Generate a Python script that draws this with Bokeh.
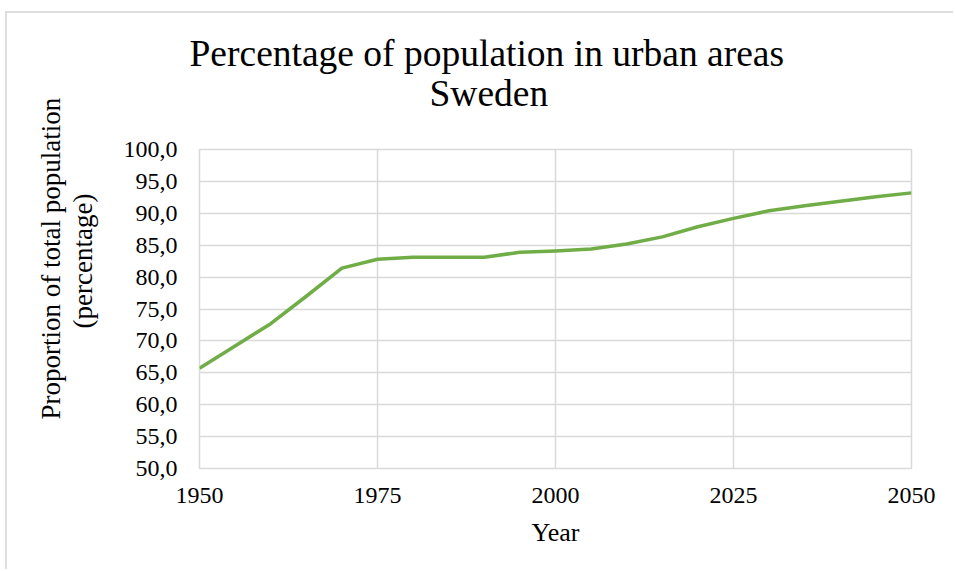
from bokeh.plotting import figure
from bokeh.models import Range1d, FixedTicker, Title
from bokeh.embed import file_html
from bokeh.resources import INLINE

years = [1950, 1955, 1960, 1965, 1970, 1975, 1980, 1985, 1990, 1995, 2000,
         2005, 2010, 2015, 2020, 2025, 2030, 2035, 2040, 2045, 2050]
urban = [65.7, 69.2, 72.7, 77.0, 81.4, 82.8, 83.1, 83.1, 83.1, 83.9, 84.1,
         84.4, 85.2, 86.3, 87.9, 89.2, 90.4, 91.2, 91.9, 92.6, 93.2]

x_ticks = [1950, 1975, 2000, 2025, 2050]
y_ticks = [50, 55, 60, 65, 70, 75, 80, 85, 90, 95, 100]
y_tick_labels = ["50,0", "55,0", "60,0", "65,0", "70,0", "75,0", "80,0",
                 "85,0", "90,0", "95,0", "100,0"]

title_lines = ["Percentage of population in urban areas", "Sweden"]
y_label_lines = ["Proportion of total population", "(percentage)"]
x_label = "Year"

FONT = "Liberation Serif"
GRID = "#d9d9d9"

p = figure(width=948, height=558, output_backend="svg", toolbar_location=None,
           x_range=Range1d(1950, 2050), y_range=Range1d(50, 100),
           min_border_left=192, min_border_right=44, min_border_top=136,
           min_border_bottom=103)
p.styles = {"margin-left": "5px", "margin-top": "11px",
            "border-left": "2px solid #dedede", "border-top": "2px solid #dedede"}

p.line(years, urban, line_color="#70AD47", line_width=3.5, line_join="round")

p.outline_line_color = GRID
p.outline_line_width = 1.5
p.xgrid.grid_line_color = GRID
p.ygrid.grid_line_color = GRID
p.xgrid.grid_line_width = 1.5
p.ygrid.grid_line_width = 1.5

for ax in (p.xaxis[0], p.yaxis[0]):
    ax.axis_line_color = None
    ax.major_tick_line_color = None
    ax.minor_tick_line_color = None
    ax.major_tick_out = 0
    ax.major_tick_in = 0
    ax.major_label_text_font = FONT
    ax.major_label_text_font_size = "24px"
    ax.major_label_text_color = "#000000"

p.xaxis[0].ticker = FixedTicker(ticks=x_ticks)
p.yaxis[0].ticker = FixedTicker(ticks=y_ticks)
p.yaxis[0].major_label_overrides = {t: l for t, l in zip(y_ticks, y_tick_labels)}
p.xaxis[0].major_label_standoff = 19
p.yaxis[0].major_label_standoff = 22

p.xaxis[0].axis_label = x_label
p.xaxis[0].axis_label_text_font = FONT
p.xaxis[0].axis_label_text_font_size = "26px"
p.xaxis[0].axis_label_text_font_style = "normal"
p.xaxis[0].axis_label_text_color = "#000000"
p.xaxis[0].axis_label_standoff = 12

def make_title(text, size, offset, standoff):
    return Title(text=text, align="left", vertical_align="bottom", offset=offset,
                 standoff=standoff, text_font=FONT, text_font_size=size,
                 text_font_style="normal", text_color="#000000")

# Chart title: second line nearest the frame, first line above it
p.add_layout(make_title(title_lines[1], "37.5px", 230, 72), "above")
p.add_layout(make_title(title_lines[0], "37.5px", -10, -78), "above")

# Y axis title (two rotated lines)
p.add_layout(make_title(y_label_lines[1], "27px", 140, 45), "left")
p.add_layout(make_title(y_label_lines[0], "27px", 49, -44), "left")

open("out.html", "w").write(file_html(p, INLINE))
